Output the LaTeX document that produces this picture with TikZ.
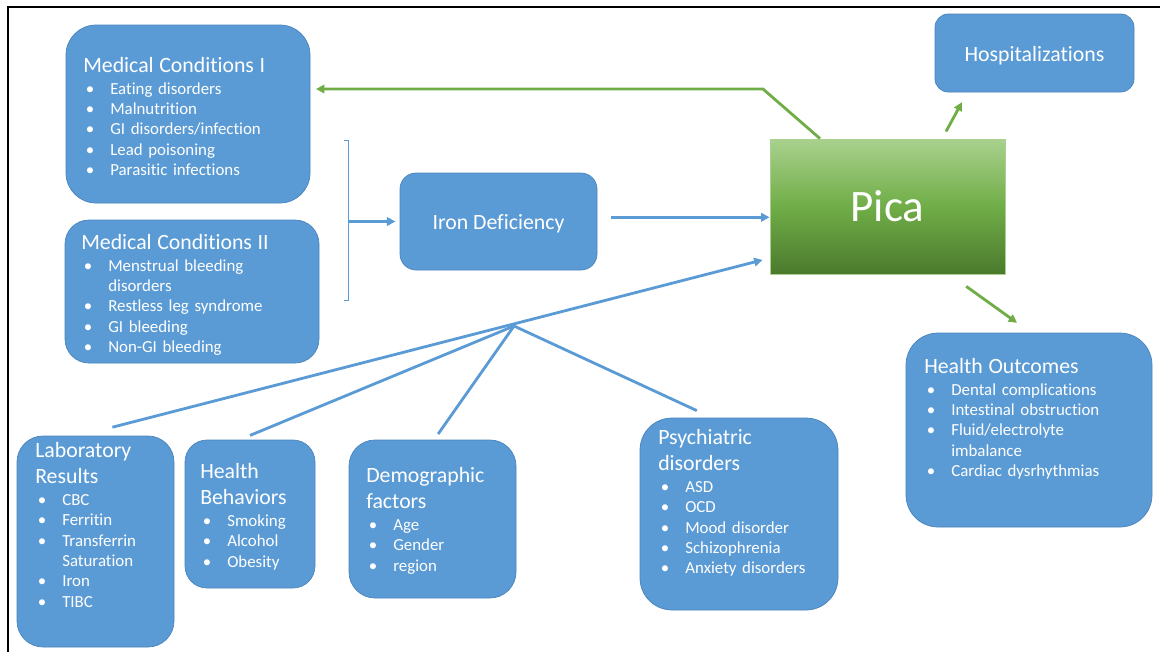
\documentclass[tikz,border=0pt]{standalone}
\usepackage{fontspec}
\setmainfont{Carlito}[Ligatures=NoCommon]
\usetikzlibrary{arrows.meta, fit}

\definecolor{boxblue}{HTML}{5B9BD5}
\definecolor{boxedge}{HTML}{4A84BC}
\definecolor{arrgreen}{HTML}{70AD47}
\definecolor{picatop}{HTML}{A9D18E}
\definecolor{picamid}{HTML}{70AD47}
\definecolor{picabot}{HTML}{4B7A2D}

\newcommand{\boxhead}[1]{{\fontsize{15.5}{18.6}\selectfont #1\par}\vspace{1pt}}
\newcommand{\boxitem}[1]{\hangindent=19.2pt\hangafter=1\noindent\makebox[19.2pt][l]{\hspace{1.8pt}\textbullet}#1\par}

\begin{document}
\begin{tikzpicture}[x=0.025cm, y=-0.025cm,
  box/.style={draw=boxedge, line width=0.5pt, fill=boxblue, inner sep=0pt},
  boxlabel/.style={inner sep=0pt, text=white, font=\fontsize{15.5}{18.6}\selectfont},
  txt/.style={anchor=north west, inner sep=0pt, text width=#1, align=left, text=white, font=\fontsize{12}{14.5}\selectfont},
  blueline/.style={draw=boxblue, line width=2pt},
  bluearrow/.style={blueline, -{Triangle[length=6pt,width=6pt]}},
  greenarrow/.style={draw=arrgreen, line width=2pt, -{Triangle[length=6pt,width=6pt]}}]
  \useasboundingbox (0,0) rectangle (1160,652);
  % frame
  \draw[line width=1.2pt] (8,652) -- (8,7) -- (1160,7);

  % Centre: Pica
  \node[fit={(770,139) (1005,274)}, inner sep=0pt, draw=picatop, line width=0.6pt,
        top color=picatop, bottom color=picabot, middle color=picamid] (pica) {};
  \node[boxlabel, font=\fontsize{32}{38}\selectfont] (picatxt) at (pica.center) {Pica};

  % Causes
  \node[box, rounded corners=0.75cm, fit={(66,25) (310,203)}] (mc1) {};
  \node[txt=5.3cm] (mc1txt) at (83,57) {\boxhead{Medical Conditions I}
    \boxitem{Eating disorders}\boxitem{Malnutrition}\boxitem{GI disorders/infection}
    \boxitem{Lead poisoning}\boxitem{Parasitic infections}};
  \node[box, rounded corners=0.6cm, fit={(65,220) (319,363)}] (mc2) {};
  \node[txt=5.6cm] (mc2txt) at (81,234) {\boxhead{Medical Conditions II}
    \boxitem{Menstrual bleeding\newline disorders}\boxitem{Restless leg syndrome}
    \boxitem{GI bleeding}\boxitem{Non-GI bleeding}};
  \node[box, rounded corners=0.4cm, fit={(400,173) (597,270)}] (iron) {};
  \node[boxlabel, yshift=-1.5pt] (irontxt) at (iron.center) {Iron Deficiency};

  % Outcomes
  \node[box, rounded corners=0.33cm, fit={(935,14) (1134,92)}] (hosp) {};
  \node[boxlabel, yshift=-2pt] (hosptxt) at (hosp.center) {Hospitalizations};
  \node[box, rounded corners=0.8cm, fit={(906,333) (1152,527)}] (ho) {};
  \node[txt=5.5cm] (hotxt) at (924,358) {\boxhead{Health Outcomes}
    \boxitem{Dental complications}\boxitem{Intestinal obstruction}
    \boxitem{Fluid/electrolyte\newline imbalance}\boxitem{Cardiac dysrhythmias}};

  % Correlates
  \node[box, rounded corners=0.65cm, fit={(17,436) (174,647)}] (lab) {};
  \node[txt=3.3cm] (labtxt) at (35,442) {\boxhead{Laboratory\newline Results}
    \boxitem{CBC}\boxitem{Ferritin}\boxitem{Transferrin\newline Saturation}
    \boxitem{Iron}\boxitem{TIBC}};
  \node[box, rounded corners=0.55cm, fit={(185,440) (315,588)}] (hb) {};
  \node[txt=2.8cm] (hbtxt) at (200,463) {\boxhead{Health\newline Behaviors}
    \boxitem{Smoking}\boxitem{Alcohol}\boxitem{Obesity}};
  \node[box, rounded corners=0.65cm, fit={(349,440) (516,598)}] (demo) {};
  \node[txt=3.6cm] (demotxt) at (366,467) {\boxhead{Demographic\newline factors}
    \boxitem{Age}\boxitem{Gender}\boxitem{region}};
  \node[box, rounded corners=0.8cm, fit={(640,418) (838,610)}] (psych) {};
  \node[txt=4.2cm] (psychtxt) at (658,429) {\boxhead{Psychiatric\newline disorders}
    \boxitem{ASD}\boxitem{OCD}\boxitem{Mood disorder}\boxitem{Schizophrenia}
    \boxitem{Anxiety disorders}};

  % bracket and arrows
  \coordinate (hub) at (514,326);
  \coordinate (bend) at (763,89);
  \coordinate (brtop) at (348,140);
  \coordinate (brbot) at (348,300);
  \draw[draw=boxblue, line width=0.6pt] ([xshift=-3pt]brtop) -- (brtop) -- (brbot) -- ([xshift=-3pt]brbot);
  \draw[bluearrow, shorten >=3pt] (brtop |- iron.west) -- (iron.west);
  \draw[bluearrow] ([xshift=10pt,yshift=3pt]iron.east) -- ([yshift=3pt]iron.east -| pica.west);
  \draw[bluearrow] ([shift={(12pt,6pt)}]lab.north) -- ([xshift=-5pt,yshift=-38pt]pica.west);
  \draw[blueline] ([yshift=3pt]hb.north) -- (hub);
  \draw[blueline] ([shift={(4pt,4pt)}]demo.north) -- (hub);
  \draw[blueline] ([shift={(-30pt,5pt)}]psych.north) -- (hub);

  \draw[greenarrow, shorten >=4pt] ([xshift=-48pt]pica.north) -- (bend) -- (mc1.east |- bend);
  \draw[greenarrow] ([shift={(41.6pt,5pt)}]pica.north) -- ([shift={(-51.6pt,-7pt)}]hosp.south);
  \draw[greenarrow] ([shift={(56pt,-8.5pt)}]pica.south) -- ([shift={(-8.5pt,7pt)}]ho.north);
\end{tikzpicture}
\end{document}
